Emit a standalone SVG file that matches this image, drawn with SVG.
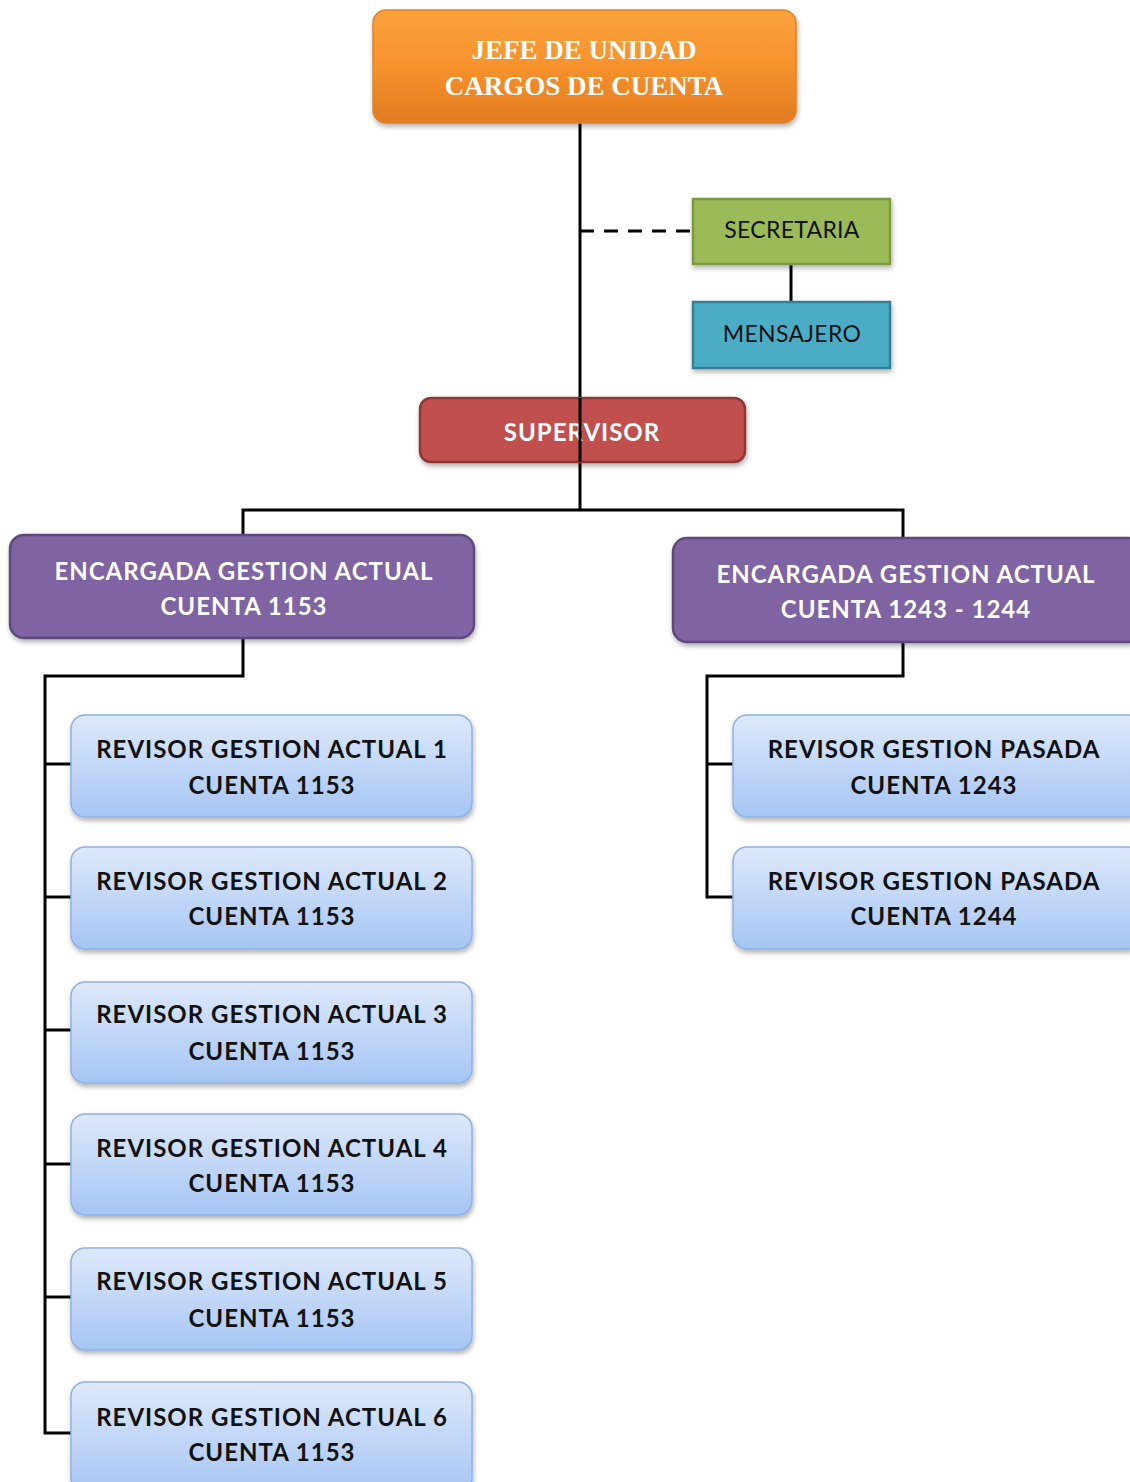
<svg xmlns="http://www.w3.org/2000/svg" width="1130" height="1482" viewBox="0 0 1130 1482">
  <defs>
    <linearGradient id="gOrange" x1="0" y1="0" x2="0" y2="1">
      <stop offset="0" stop-color="#fba23c"/>
      <stop offset="0.5" stop-color="#f6922c"/>
      <stop offset="1" stop-color="#e27a1f"/>
    </linearGradient>
    <linearGradient id="gBlue" x1="0" y1="0" x2="0" y2="1">
      <stop offset="0" stop-color="#dde9fb"/>
      <stop offset="1" stop-color="#a6c5f4"/>
    </linearGradient>
    <filter id="shadow" x="-10%" y="-10%" width="120%" height="130%">
      <feDropShadow dx="1" dy="3" stdDeviation="2.5" flood-color="#000" flood-opacity="0.3"/>
    </filter>
    <style>
      .line { stroke: #000; stroke-width: 3; fill: none; }
      .dash { stroke-dasharray: 14 10; }
      .lbl { font-family: Lato, "Open Sans", "Liberation Sans", sans-serif; font-weight: bold; font-size: 24px; letter-spacing: 1px; text-anchor: middle; }
      .small { font-size: 23px; font-weight: normal; letter-spacing: 0.3px; }
      .white { fill: #fff; }
      .dark { fill: #111; }
      .serif { font-family: "Liberation Serif", "DejaVu Serif", serif; font-weight: bold; font-size: 27px; text-anchor: middle; fill: #fff; }
      .rev { fill: url(#gBlue); stroke: #8fb2e2; stroke-width: 1.5; filter: url(#shadow); }
      .purple { fill: #8064a2; stroke: #5e4a7a; stroke-width: 2.5; filter: url(#shadow); }
    </style>
  </defs>

  <!-- connectors -->
  <g id="connectors">
    <line class="line" x1="580" y1="123" x2="580" y2="511"/>
    <line class="line dash" x1="580" y1="231" x2="693" y2="231"/>
    <line class="line" x1="791" y1="264" x2="791" y2="302"/>
    <polyline class="line" points="243,535 243,510 903,510 903,538"/>
    <polyline class="line" points="243,638 243,676 45,676 45,1433 71,1433"/>
    <line class="line" x1="45" y1="764" x2="71" y2="764"/>
    <line class="line" x1="45" y1="897" x2="71" y2="897"/>
    <line class="line" x1="45" y1="1030" x2="71" y2="1030"/>
    <line class="line" x1="45" y1="1164" x2="71" y2="1164"/>
    <line class="line" x1="45" y1="1297" x2="71" y2="1297"/>
    <polyline class="line" points="903,642 903,676 707,676 707,897 733,897"/>
    <line class="line" x1="707" y1="764" x2="733" y2="764"/>
  </g>

  <g id="jefe">
    <rect x="373" y="10" width="423" height="113" rx="13" fill="url(#gOrange)" stroke="#e0842a" stroke-width="1.5" filter="url(#shadow)"/>
    <text class="serif" x="584" y="59">JEFE DE UNIDAD</text>
    <text class="serif" x="584" y="95">CARGOS DE CUENTA</text>
  </g>

  <g id="secretaria">
    <rect x="693" y="199" width="197" height="65" fill="#9bbb59" stroke="#7a9a40" stroke-width="2.5" filter="url(#shadow)"/>
    <text class="lbl small dark" x="792" y="238">SECRETARIA</text>
  </g>

  <g id="mensajero">
    <rect x="693" y="302" width="197" height="66" fill="#4bacc6" stroke="#357e93" stroke-width="2.5" filter="url(#shadow)"/>
    <text class="lbl small dark" x="792" y="342">MENSAJERO</text>
  </g>

  <g id="supervisor">
    <rect x="420" y="398" width="325" height="64" rx="11" fill="#c0504d" stroke="#8c3734" stroke-width="2.5" filter="url(#shadow)"/>
    <text class="lbl white" x="582" y="441">SUPERVISOR</text>
  </g>
  <!-- trunk passes over the supervisor box -->
  <line class="line" x1="580" y1="398" x2="580" y2="462"/>

  <g id="encargada-1153">
    <rect x="10" y="535" width="464" height="103" rx="14" class="purple"/>
    <text class="lbl white" x="244" y="580">ENCARGADA GESTION ACTUAL</text>
    <text class="lbl white" x="244" y="615">CUENTA 1153</text>
  </g>

  <g id="encargada-1243-1244">
    <rect x="673" y="538" width="470" height="104" rx="14" class="purple"/>
    <text class="lbl white" x="906" y="583">ENCARGADA GESTION ACTUAL</text>
    <text class="lbl white" x="906" y="618">CUENTA 1243 - 1244</text>
  </g>

  <g id="revisor-actual-1">
    <rect x="71" y="715" width="401" height="102" rx="14" class="rev"/>
    <text class="lbl dark" x="272" y="758">REVISOR GESTION ACTUAL 1</text>
    <text class="lbl dark" x="272" y="794">CUENTA 1153</text>
  </g>
  <g id="revisor-actual-2">
    <rect x="71" y="847" width="401" height="102" rx="14" class="rev"/>
    <text class="lbl dark" x="272" y="890">REVISOR GESTION ACTUAL 2</text>
    <text class="lbl dark" x="272" y="925">CUENTA 1153</text>
  </g>
  <g id="revisor-actual-3">
    <rect x="71" y="982" width="401" height="101" rx="14" class="rev"/>
    <text class="lbl dark" x="272" y="1023">REVISOR GESTION ACTUAL 3</text>
    <text class="lbl dark" x="272" y="1060">CUENTA 1153</text>
  </g>
  <g id="revisor-actual-4">
    <rect x="71" y="1114" width="401" height="101" rx="14" class="rev"/>
    <text class="lbl dark" x="272" y="1157">REVISOR GESTION ACTUAL 4</text>
    <text class="lbl dark" x="272" y="1192">CUENTA 1153</text>
  </g>
  <g id="revisor-actual-5">
    <rect x="71" y="1248" width="401" height="102" rx="14" class="rev"/>
    <text class="lbl dark" x="272" y="1290">REVISOR GESTION ACTUAL 5</text>
    <text class="lbl dark" x="272" y="1327">CUENTA 1153</text>
  </g>
  <g id="revisor-actual-6">
    <rect x="71" y="1382" width="401" height="110" rx="14" class="rev"/>
    <text class="lbl dark" x="272" y="1426">REVISOR GESTION ACTUAL 6</text>
    <text class="lbl dark" x="272" y="1461">CUENTA 1153</text>
  </g>

  <g id="revisor-pasada-1243">
    <rect x="733" y="715" width="410" height="102" rx="14" class="rev"/>
    <text class="lbl dark" x="934" y="758">REVISOR GESTION PASADA</text>
    <text class="lbl dark" x="934" y="794">CUENTA 1243</text>
  </g>
  <g id="revisor-pasada-1244">
    <rect x="733" y="847" width="410" height="102" rx="14" class="rev"/>
    <text class="lbl dark" x="934" y="890">REVISOR GESTION PASADA</text>
    <text class="lbl dark" x="934" y="925">CUENTA 1244</text>
  </g>
</svg>
